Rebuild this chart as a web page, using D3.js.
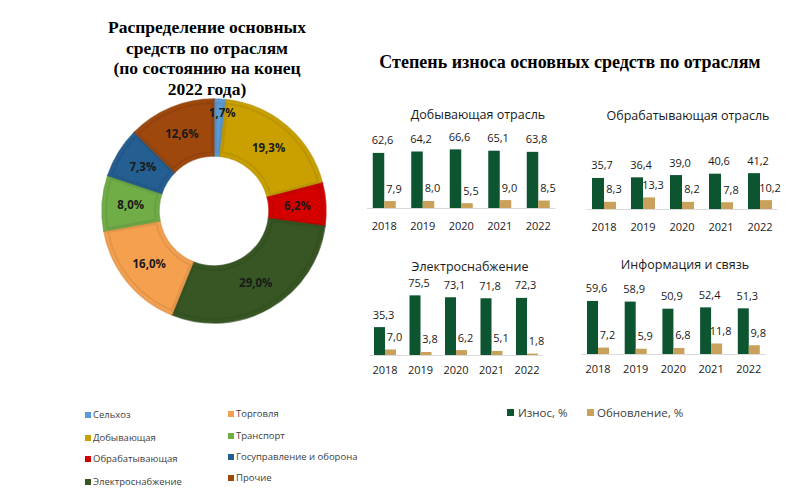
<!DOCTYPE html>
<html><head><meta charset="utf-8">
<script src="https://cdn.jsdelivr.net/npm/d3@7"></script>
<style>body{margin:0;background:#fff}svg{display:block}</style>
</head><body>
<svg id="c" width="800" height="501"></svg>
<script>
// ---- Data ----
const sectors = ["Сельхоз","Добывающая","Обрабатывающая","Электроснабжение","Торговля","Транспорт","Госуправление и оборона","Прочие"];
const shares = [1.7,19.3,6.2,29.0,16.0,8.0,7.3,12.6];
const sectorColors = ["#5b9bd5","#c9a000","#d40000","#375623","#f4a04f","#70ad47","#255e91","#9e480e"];

const years = ["2018","2019","2020","2021","2022"];
const seriesNames = ["Износ, %","Обновление, %"];
const seriesColors = ["#0c5530","#c9a15a"];
const panelTitles = ["Добывающая отрасль","Обрабатывающая отрасль","Электроснабжение","Информация и связь"];
const wearMining = [62.6,64.2,66.6,65.1,63.8];
const renewMining = [7.9,8.0,5.5,9.0,8.5];
const wearManuf = [35.7,36.4,39.0,40.6,41.2];
const renewManuf = [8.3,13.3,8.2,7.8,10.2];
const wearPower = [35.3,75.5,73.1,71.8,72.3];
const renewPower = [7.0,3.8,6.2,5.1,1.8];
const wearInfo = [59.6,58.9,50.9,52.4,51.3];
const renewInfo = [7.2,5.9,6.8,11.8,9.8];

const svg = d3.select("#c");
const fmt = v => d3.format(".1f")(v).replace(".", ",");

// ---- Titles ----
const serif = "'Liberation Serif','Times New Roman',serif";
const sans = "'Open Sans','Noto Sans',sans-serif";
const lt = svg.append("text").attr("x",207).attr("font-family",serif).attr("font-weight","bold")
  .attr("font-size",17.5).attr("fill","#000").attr("text-anchor","middle");
["Распределение основных","средств по отраслям","(по состоянию на конец","2022 года)"].forEach((s,i)=>{
  lt.append("tspan").attr("x",207).attr("y",33+i*20.5).text(s);
});
svg.append("text").attr("x",570).attr("y",68).attr("font-family",serif).attr("font-weight","bold")
  .attr("font-size",18).attr("text-anchor","middle").attr("fill","#000")
  .text("Степень износа основных средств по отраслям");

// ---- Donut ----
const cx=214, cy=211, rOut=112, rIn=55;
const pie = d3.pie().sort(null).value(d=>d.v);
const arcs = pie(shares.map((v,i)=>({v,i})));
const arc = d3.arc().innerRadius(rIn).outerRadius(rOut);
const g = svg.append("g").attr("transform",`translate(${cx},${cy})`);
g.selectAll("path.s").data(arcs).join("path").attr("class","s")
  .attr("d",arc).attr("fill",d=>sectorColors[d.data.i])
  .attr("stroke",d=>d3.color(sectorColors[d.data.i]).darker(0.3)).attr("stroke-width",1.5).attr("stroke-opacity",0.7);
// inner bevel look
const arcIn = d3.arc().innerRadius(rIn+4).outerRadius(rOut-4).padAngle(0.03);
g.selectAll("path.b").data(arcs).join("path").attr("class","b")
  .attr("d",arcIn).attr("fill","none")
  .attr("stroke",d=>d3.color(sectorColors[d.data.i]).darker(0.35)).attr("stroke-width",2).attr("stroke-opacity",0.6);
g.selectAll("text").data(arcs).join("text")
  .attr("transform",d=>{
    const r = d.data.v<3 ? 98 : (rIn+rOut)/2;
    const a = (d.startAngle+d.endAngle)/2;
    return `translate(${Math.sin(a)*r+ (d.data.v<3?3:0)},${-Math.cos(a)*r})`;
  })
  .attr("dy","0.36em").attr("text-anchor","middle")
  .attr("font-family",sans).attr("font-weight","bold").attr("font-size",11.5).attr("fill","#1a1a1a")
  .text(d=>fmt(d.data.v)+"%");

// ---- Donut legend ----
const leftCol = [0,1,2,3], rightCol=[4,5,6,7];
const lyL=[415,438,459,482], lyR=[414,436,457,478];
leftCol.forEach((k,i)=>{
  svg.append("rect").attr("x",85).attr("y",lyL[i]-3).attr("width",6).attr("height",6).attr("fill",sectorColors[k]);
  svg.append("text").attr("x",93).attr("y",lyL[i]).attr("dy","0.35em").attr("font-family",sans).attr("font-size",9.5).attr("fill","#404040").text(sectors[k]);
});
rightCol.forEach((k,i)=>{
  svg.append("rect").attr("x",228).attr("y",lyR[i]-3).attr("width",6).attr("height",6).attr("fill",sectorColors[k]);
  svg.append("text").attr("x",236).attr("y",lyR[i]).attr("dy","0.35em").attr("font-family",sans).attr("font-size",9.5).attr("fill","#404040").text(sectors[k]);
});

// ---- Small bar panels ----
const panels = [
  {title:panelTitles[0], data:[wearMining,renewMining], x0:365, x1:557.5, base:208, ppu:0.88, tx:478, ty:119, yy:230, bw:11.5},
  {title:panelTitles[1], data:[wearManuf,renewManuf], x0:584.5, x1:779.5, base:209, ppu:0.87, tx:688, ty:120, yy:231, bw:12},
  {title:panelTitles[2], data:[wearPower,renewPower], x0:367.25, x1:544.75, base:355, ppu:0.79, tx:470, ty:271, yy:374, bw:11},
  {title:panelTitles[3], data:[wearInfo,renewInfo], x0:579.15, x1:767.65, base:354, ppu:0.89, tx:685, ty:269, yy:373, bw:11},
];
panels.forEach(p=>{
  const pg = svg.append("g");
  const x = d3.scaleBand().domain(years).range([p.x0,p.x1]);
  const xi = d3.scaleBand().domain(seriesNames).range([-p.bw, p.bw]);
  const y = d3.scaleLinear().domain([0,100]).range([p.base, p.base-100*p.ppu]);
  pg.append("text").attr("x",p.tx).attr("y",p.ty).attr("text-anchor","middle")
    .attr("font-family",sans).attr("font-size",12.5).attr("fill","#1a1a1a").text(p.title);
  pg.append("line").attr("x1",p.x0+2).attr("x2",p.x1-2).attr("y1",p.base+0.5).attr("y2",p.base+0.5)
    .attr("stroke","#d9d9d9").attr("stroke-width",1);
  seriesNames.forEach((s,si)=>{
    const vals = p.data[si];
    years.forEach((yr,j)=>{
      const cxp = x(yr)+x.bandwidth()/2 + xi(s);
      pg.append("rect").attr("x",cxp).attr("width",xi.bandwidth())
        .attr("y",y(vals[j])).attr("height",p.base-y(vals[j])).attr("fill",seriesColors[si]);
      pg.append("text").attr("x",cxp+xi.bandwidth()/2+4).attr("y",y(vals[j])-8.5)
        .attr("text-anchor","middle").attr("font-family",sans).attr("font-size",11).attr("fill","#1a1a1a")
        .text(fmt(vals[j]));
    });
  });
  const ax = d3.axisBottom(x).tickSize(0).tickPadding(0);
  const axg = pg.append("g").attr("transform",`translate(0,${p.yy})`).call(ax);
  axg.select(".domain").remove();
  axg.selectAll("text").attr("font-family",sans).attr("font-size",11).attr("fill","#1a1a1a").attr("dy",0);
});

// ---- Series legend ----
const sl = [{x:507,tx:518},{x:587,tx:597}];
seriesNames.forEach((s,i)=>{
  svg.append("rect").attr("x",sl[i].x).attr("y",409).attr("width",7).attr("height",7).attr("fill",seriesColors[i]);
  svg.append("text").attr("x",sl[i].tx).attr("y",412.5).attr("dy","0.35em").attr("font-family",sans)
    .attr("font-size",11.5).attr("fill","#404040").text(s);
});
</script>
</body></html>
